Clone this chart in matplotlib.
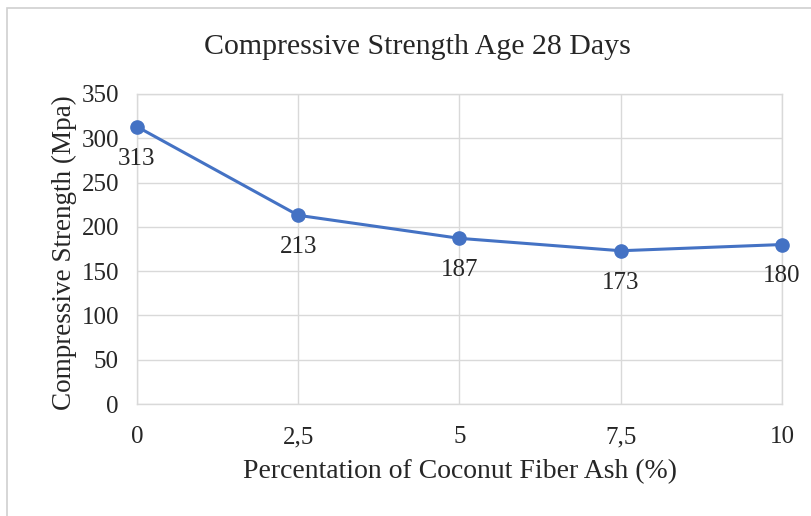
import numpy as np
import matplotlib.pyplot as plt
from matplotlib.patches import Rectangle

# data
ash_pct = [0, 2.5, 5, 7.5, 10]
tick_labels = ["0", "2,5", "5", "7,5", "10"]
strength = [313, 213, 187, 173, 180]

linecolor = "#4472C4"
gridcolor = "#d9d9d9"
textcolor = "#262626"

plt.rcParams['font.family'] = ['Liberation Serif', 'DejaVu Serif']

fig = plt.figure(figsize=(8.12, 5.16), dpi=100, facecolor="white")
ax = fig.add_axes([0.1687, 0.217, 0.7943, 0.601])

# light chart-area border like the Excel frame
fig.patches.append(Rectangle((7/812, -0.1), 1.2, 1.1 - 8/516,
                             transform=fig.transFigure, fill=False,
                             edgecolor="#d0d0d0", linewidth=1.2))

ax.plot(ash_pct, strength, color=linecolor, linewidth=2.2,
        marker="o", markersize=9.5, zorder=3, clip_on=False)

for x, y in zip(ash_pct, strength):
    ax.annotate(str(y), (x, y), xytext=(0, -23), textcoords="offset points",
                ha="center", va="center", fontsize=18, color=textcolor)

ax.set_xlim(0, 10)
ax.set_ylim(0, 350)
ax.set_xticks(ash_pct)
ax.set_xticklabels(tick_labels)
ax.set_yticks(np.arange(0, 351, 50))

ax.grid(True, color=gridcolor, linewidth=1)
ax.set_axisbelow(True)
for s in ax.spines.values():
    s.set_color(gridcolor)
    s.set_linewidth(1)
ax.tick_params(length=0, labelsize=18, colors=textcolor)
ax.tick_params(axis="x", pad=16)
ax.tick_params(axis="y", pad=13)

fig.text(0.514, 0.908, "Compressive Strength Age 28 Days", fontsize=21.5,
         color=textcolor, ha="center", va="center")
fig.text(0.566, 0.086, "Percentation of Coconut Fiber Ash (%)", fontsize=20,
         color=textcolor, ha="center", va="center")
fig.text(0.079, 0.51, "Compressive Strength (Mpa)", fontsize=19.5,
         color=textcolor, ha="center", va="center", rotation=90)

plt.savefig("out.png", dpi=100)
